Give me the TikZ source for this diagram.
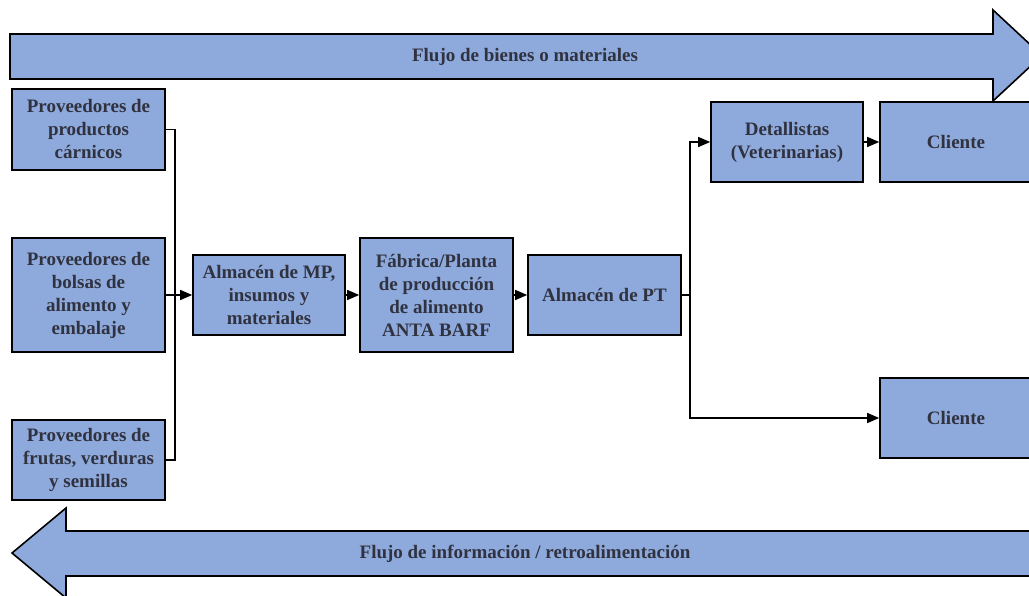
\documentclass[tikz,border=0pt]{standalone}
\usepackage{fontspec}
\setmainfont{Liberation Serif}
\usetikzlibrary{arrows.meta}
\definecolor{boxblue}{RGB}{142,169,219}
\definecolor{txt}{RGB}{48,50,64}
\begin{document}
\begin{tikzpicture}[x=1pt,y=-1pt,
  box/.style={draw=black,line width=1.6pt,fill=boxblue,text=txt,align=center,
    font=\fontsize{19}{23}\selectfont\bfseries,inner sep=2pt},
  flow/.style={draw=black,line width=1.6pt,fill=boxblue},
  lbl/.style={text=txt,font=\fontsize{19}{23}\selectfont\bfseries},
  conn/.style={line width=1.3pt},
  arr/.style={conn,-{Triangle[length=12pt,width=10pt]}}]
\useasboundingbox (0,0) rectangle (1029,596);
\clip (0,0) rectangle (1029,596);
% top flow arrow
\draw[flow] (10,34) -- (993,34) -- (993,10) -- (1042,55.5) -- (993,101) -- (993,79) -- (10,79) -- cycle;
\node[lbl] (ftop) at (525,56.5) {Flujo de bienes o materiales};
% bottom flow arrow
\draw[flow] (12,553) -- (66,508) -- (66,531) -- (1040,531) -- (1040,576) -- (66,576) -- (66,598) -- cycle;
\node[lbl] (fbot) at (525,553.5) {Flujo de información / retroalimentación};
% boxes
\node[box,minimum width=153pt,minimum height=81pt] (p1) at (88.5,129.5) {Proveedores de\\productos\\cárnicos};
\node[box,minimum width=153pt,minimum height=114pt] (p2) at (88.5,295) {Proveedores de\\bolsas de\\alimento y\\embalaje};
\node[box,minimum width=153pt,minimum height=80pt] (p3) at (88.5,460) {Proveedores de\\frutas, verduras\\y semillas};
\node[box,minimum width=152pt,minimum height=80pt] (mp) at (269,295) {Almacén de MP,\\insumos y\\materiales};
\node[box,minimum width=153pt,minimum height=114pt] (fab) at (436.5,295) {Fábrica/Planta\\de producción\\de alimento\\ANTA BARF};
\node[box,minimum width=153pt,minimum height=80pt] (pt) at (604.5,295) {Almacén de PT};
\node[box,minimum width=152pt,minimum height=80pt] (det) at (787,142) {Detallistas\\(Veterinarias)};
\node[box,minimum width=152pt,minimum height=80pt] (cli1) at (956,142) {Cliente};
\node[box,minimum width=152pt,minimum height=80pt] (cli2) at (956,418) {Cliente};
% connectors
\coordinate (j) at (175,295);
\coordinate (k) at (690,295);
\draw[conn] (p1.east) -| (j);
\draw[conn] (p3.east) -| (j);
\draw[arr] (p2.east) -- (mp.west);
\draw[arr] (mp.east) -- (fab.west);
\draw[arr] (fab.east) -- (pt.west);
\draw[conn] (pt.east) -- (k);
\draw[arr] (k) |- (det.west);
\draw[arr] (k) |- (cli2.west);
\draw[arr] (det.east) -- (cli1.west);
\end{tikzpicture}
\end{document}
